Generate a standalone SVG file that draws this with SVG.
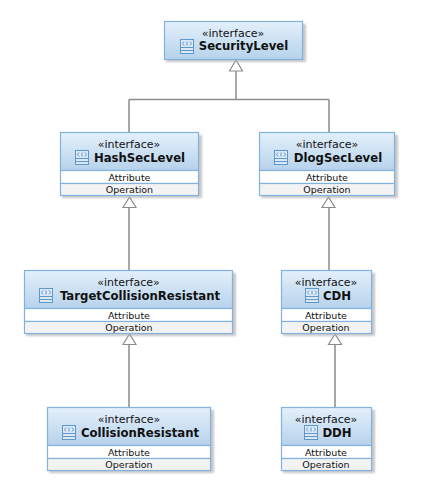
<svg xmlns="http://www.w3.org/2000/svg" width="424" height="496" viewBox="0 0 424 496">
<style>
text{font-family:"DejaVu Sans",sans-serif;text-anchor:middle;fill:#111}
.s{font-size:11px}.n{font-size:11.7px;font-weight:bold}.c{font-size:9.5px}
.sh{fill:#b4b4b4;opacity:.75;filter:url(#bl)}.b{fill:url(#g);stroke:#82b2df;stroke-width:1.2}
.a{fill:#fff;stroke:#82b2df;stroke-width:1.2}.o{fill:#f3f3f3;stroke:#82b2df;stroke-width:1.2}
.l{fill:none;stroke:#8c8c8c;stroke-width:1.5}
.t{fill:#fff;stroke:#8c8c8c;stroke-width:1.2}
.i{fill:#dbe9f6;stroke:#5f97cc;stroke-width:1}
.il{fill:none;stroke:#5f97cc;stroke-width:1}
</style>
<defs>
<filter id="bl" x="-10%" y="-10%" width="120%" height="120%"><feGaussianBlur stdDeviation="1"/></filter>
<linearGradient id="g" x1="0" y1="0" x2="0" y2="1"><stop offset="0" stop-color="#e4f0fb"/><stop offset="1" stop-color="#b6d2eb"/></linearGradient>
<g id="ic"><rect class="i" x="0.5" y="0.5" width="13" height="14"/><path class="il" d="M0.500 8.500H13.500M0.500 11.500H13.500"/><path class="il" d="M4 2.500L2.500 4.500L4 6.500M10 2.500L11.500 4.500L10 6.500M7 2.500V6.500"/></g>
</defs>
<g id="connectors">
<path class="l" d="M236 71V99.500M129 99.500H329M129 99.500V132M329 99.500V132M129 207V270M329 207V270M129 344V407M335 344V407"/>
<path class="t" d="M236 60L229.500 71H242.500Z"/>
<path class="t" d="M129.500 197L123 207.500H136Z"/>
<path class="t" d="M328.500 197L322 207.500H335Z"/>
<path class="t" d="M129.500 334L123 344.500H136Z"/>
<path class="t" d="M335 334L328.500 344.500H341.500Z"/>
</g>
<g id="SecurityLevel">
<rect class="sh" x="166" y="24" width="140" height="38"/><rect class="b" x="164.500" y="21.500" width="138" height="38"/>
<text class="s" x="233" y="36.500">«interface»</text><use href="#ic" x="180" y="39"/><text class="n" x="243.500" y="50">SecurityLevel</text>
</g>
<g id="HashSecLevel">
<rect class="sh" x="62" y="135" width="140" height="63"/><rect class="b" x="60.500" y="132.500" width="138" height="38"/>
<rect class="a" x="60.500" y="170.500" width="138" height="13"/><rect class="o" x="60.500" y="183.500" width="138" height="12"/>
<text class="s" x="129" y="147.500">«interface»</text><use href="#ic" x="75" y="150"/><text class="n" x="139.500" y="161.500">HashSecLevel</text>
<text class="c" x="129.500" y="180.500">Attribute</text><text class="c" x="129.500" y="193">Operation</text>
</g>
<g id="DlogSecLevel">
<rect class="sh" x="261" y="135" width="137" height="63"/><rect class="b" x="259.500" y="132.500" width="135" height="38"/>
<rect class="a" x="259.500" y="170.500" width="135" height="13"/><rect class="o" x="259.500" y="183.500" width="135" height="12"/>
<text class="s" x="327" y="147.500">«interface»</text><use href="#ic" x="274" y="150"/><text class="n" x="338" y="161.500">DlogSecLevel</text>
<text class="c" x="327" y="180.500">Attribute</text><text class="c" x="327" y="193">Operation</text>
</g>
<g id="TargetCollisionResistant">
<rect class="sh" x="26" y="273" width="210" height="63"/><rect class="b" x="24.500" y="270.500" width="208" height="38"/>
<rect class="a" x="24.500" y="308.500" width="208" height="13"/><rect class="o" x="24.500" y="321.500" width="208" height="12"/>
<text class="s" x="128.500" y="285.500">«interface»</text><use href="#ic" x="39" y="288"/><text class="n" x="140" y="299.500">TargetCollisionResistant</text>
<text class="c" x="129" y="318.500">Attribute</text><text class="c" x="129" y="331">Operation</text>
</g>
<g id="CDH">
<rect class="sh" x="283" y="273" width="92" height="63"/><rect class="b" x="281.500" y="270.500" width="90" height="38"/>
<rect class="a" x="281.500" y="308.500" width="90" height="13"/><rect class="o" x="281.500" y="321.500" width="90" height="12"/>
<text class="s" x="326" y="285.500">«interface»</text><use href="#ic" x="305" y="288"/><text class="n" x="337" y="299.500">CDH</text>
<text class="c" x="326" y="318.500">Attribute</text><text class="c" x="326" y="331">Operation</text>
</g>
<g id="CollisionResistant">
<rect class="sh" x="49" y="410" width="165" height="63"/><rect class="b" x="47.500" y="407.500" width="163" height="38"/>
<rect class="a" x="47.500" y="445.500" width="163" height="13"/><rect class="o" x="47.500" y="458.500" width="163" height="12"/>
<text class="s" x="129" y="422.500">«interface»</text><use href="#ic" x="62" y="425"/><text class="n" x="140" y="436.500">CollisionResistant</text>
<text class="c" x="129" y="455.500">Attribute</text><text class="c" x="129" y="468">Operation</text>
</g>
<g id="DDH">
<rect class="sh" x="283" y="410" width="92" height="63"/><rect class="b" x="281.500" y="407.500" width="90" height="38"/>
<rect class="a" x="281.500" y="445.500" width="90" height="13"/><rect class="o" x="281.500" y="458.500" width="90" height="12"/>
<text class="s" x="326" y="422.500">«interface»</text><use href="#ic" x="304" y="425"/><text class="n" x="337" y="436.500">DDH</text>
<text class="c" x="326" y="455.500">Attribute</text><text class="c" x="326" y="468">Operation</text>
</g>
</svg>
